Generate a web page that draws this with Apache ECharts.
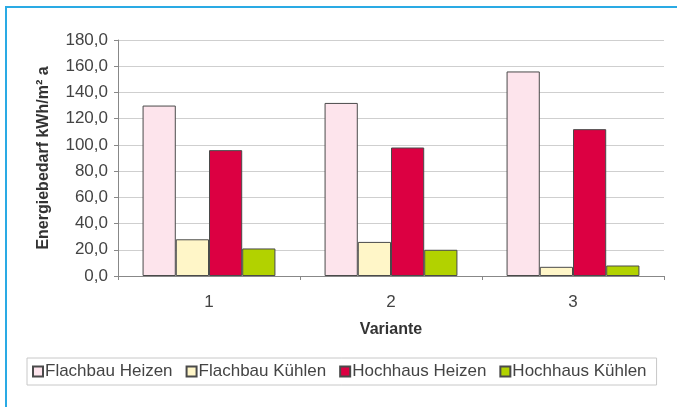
<!DOCTYPE html>
<html>
<head>
<meta charset="utf-8">
<script src="https://cdn.jsdelivr.net/npm/echarts@6/dist/echarts.min.js"></script>
<style>
  html, body { margin: 0; padding: 0; background: #fff; }
  #chart { width: 677px; height: 407px; }
</style>
</head>
<body>
<div id="chart"></div>
<script>
// Energy demand per variant (kWh/m² a)
const categories = ['1', '2', '3'];
const flachbauHeizen = [130, 132, 156];
const flachbauKuehlen = [28, 26, 7];
const hochhausHeizen = [96, 98, 112];
const hochhausKuehlen = [21, 20, 8];
const seriesNames = ['Flachbau Heizen', 'Flachbau Kühlen', 'Hochhaus Heizen', 'Hochhaus Kühlen'];
const seriesColors = ['#fde4ec', '#fff6c8', '#dc0042', '#b2d200'];

const FONT = '"Liberation Sans", Arial, sans-serif';

const chart = echarts.init(document.getElementById('chart'), null, { renderer: 'canvas' });

function bar(name, data, color) {
  return {
    name: name,
    type: 'bar',
    data: data,
    barGap: '0%',
    barCategoryGap: '27%',
    itemStyle: { color: color, borderColor: '#4a4a4a', borderWidth: 1 },
    emphasis: { disabled: true }
  };
}

chart.setOption({
  animation: false,
  backgroundColor: '#ffffff',
  textStyle: { fontFamily: FONT },
  grid: { left: 118, right: 13, top: 40, bottom: 131 },
  graphic: [
    // blue frame along the top and left edges
    { type: 'rect', left: 5, top: 6, shape: { width: 672, height: 2 }, style: { fill: '#2aaae4' }, silent: true },
    { type: 'rect', left: 5, top: 6, shape: { width: 2, height: 401 }, style: { fill: '#2aaae4' }, silent: true }
  ],
  legend: {
    data: seriesNames,
    left: 27,
    top: 358,
    width: 640,
    padding: [5, 10, 5, 5],
    borderColor: '#c8c8c8',
    borderWidth: 1,
    icon: 'rect',
    itemWidth: 10,
    itemHeight: 10,
    itemGap: 13,
    selectedMode: false,
    textStyle: { fontFamily: FONT, fontSize: 17, color: '#444', padding: [0, 0, 0, -3] }
  },
  xAxis: {
    type: 'category',
    data: categories,
    name: 'Variante',
    nameLocation: 'middle',
    nameGap: 46,
    nameTextStyle: { fontFamily: FONT, fontSize: 16, fontWeight: 'bold', color: '#333' },
    axisLine: { lineStyle: { color: '#888', width: 1 } },
    axisTick: { show: true, length: 4, lineStyle: { color: '#888' } },
    axisLabel: { fontFamily: FONT, fontSize: 17, color: '#444', margin: 18 }
  },
  yAxis: {
    type: 'value',
    min: 0,
    max: 180,
    interval: 20,
    name: 'Energiebedarf kWh/m² a',
    nameLocation: 'middle',
    nameGap: 66,
    nameTextStyle: { fontFamily: FONT, fontSize: 16, fontWeight: 'bold', color: '#333' },
    axisLine: { show: true, lineStyle: { color: '#888', width: 1 } },
    axisTick: { show: true, length: 4, lineStyle: { color: '#888' } },
    axisLabel: {
      fontFamily: FONT, fontSize: 17, color: '#444', margin: 10,
      formatter: v => v.toFixed(1).replace('.', ',')
    },
    splitLine: { lineStyle: { color: '#cfcfcf', width: 1 } }
  },
  series: [
    bar(seriesNames[0], flachbauHeizen, seriesColors[0]),
    bar(seriesNames[1], flachbauKuehlen, seriesColors[1]),
    bar(seriesNames[2], hochhausHeizen, seriesColors[2]),
    bar(seriesNames[3], hochhausKuehlen, seriesColors[3])
  ]
});
</script>
</body>
</html>
